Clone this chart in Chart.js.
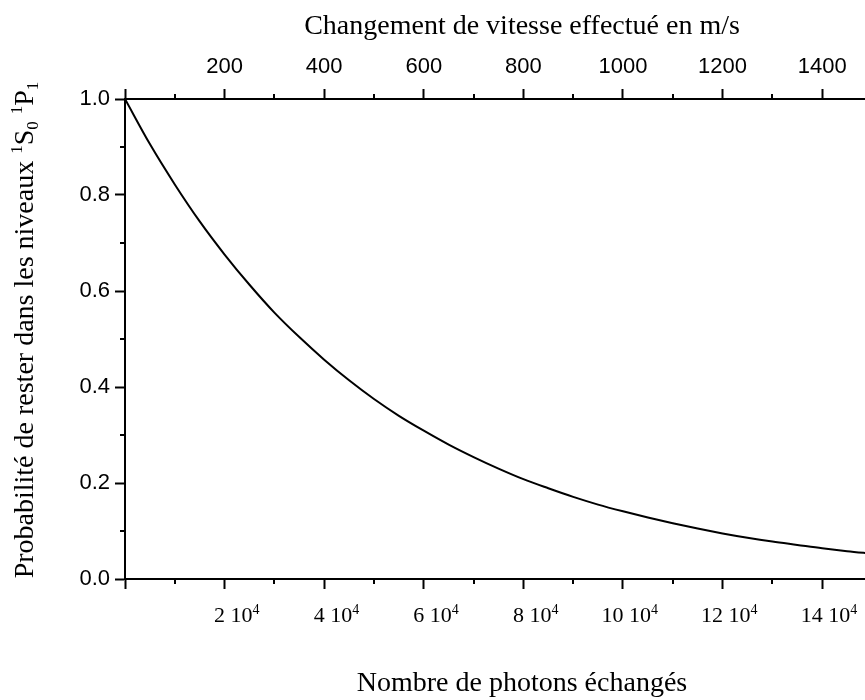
<!DOCTYPE html>
<html>
<head>
<meta charset="utf-8">
<script src="https://cdn.jsdelivr.net/npm/chart.js@4/dist/chart.umd.min.js"></script>
<style>
  html, body { margin: 0; padding: 0; background: #fff; }
  #wrap { width: 865px; height: 700px; position: relative; }
</style>
</head>
<body>
<div id="wrap"><canvas id="c" width="865" height="700"></canvas></div>
<script>
// ---- data ----
const photons = [0, 5000, 10000, 15000, 20000, 25000, 30000, 35000, 40000, 45000,
  50000, 55000, 60000, 65000, 70000, 75000, 80000, 85000, 90000, 95000,
  100000, 105000, 110000, 115000, 120000, 125000, 130000, 135000, 140000, 145000, 150000];
const probability = [1.000, 0.906, 0.822, 0.745, 0.676, 0.613, 0.555, 0.504, 0.457, 0.414,
  0.375, 0.340, 0.309, 0.280, 0.254, 0.230, 0.208, 0.189, 0.171, 0.155,
  0.141, 0.128, 0.116, 0.105, 0.095, 0.086, 0.078, 0.071, 0.064, 0.058, 0.053];
const bottomTicks = [20000, 40000, 60000, 80000, 100000, 120000, 140000];
const bottomTickLabels = ['2 10', '4 10', '6 10', '8 10', '10 10', '12 10', '14 10'];
const bottomTickExp = '4';
const topTicks = [200, 400, 600, 800, 1000, 1200, 1400];
const yTicks = [0.0, 0.2, 0.4, 0.6, 0.8, 1.0];
const xMax = 148600;      // visible end of the photon axis
const topMax = 1486;      // matching end of the velocity axis (m/s)
const titleTop = 'Changement de vitesse effectué en m/s';
const titleBottom = 'Nombre de photons échangés';
const titleLeftMain = 'Probabilité de rester dans les niveaux ';

const SANS = "'Liberation Sans', Arial, sans-serif";
const SERIF = "'Liberation Serif', 'Times New Roman', serif";

const points = photons.map((p, i) => ({ x: p, y: probability[i] }));

const extras = {
  id: 'extras',
  afterDraw(chart) {
    const ctx = chart.ctx;
    const { x, x2, y } = chart.scales;
    const ca = chart.chartArea;
    ctx.save();
    ctx.strokeStyle = '#000';
    ctx.lineWidth = 2;
    // minor ticks
    ctx.beginPath();
    for (let v = 10000; v < xMax; v += 20000) {
      const px = Math.round(x.getPixelForValue(v));
      ctx.moveTo(px, ca.bottom); ctx.lineTo(px, ca.bottom + 5);
    }
    for (let v = 100; v < topMax; v += 200) {
      const px = Math.round(x2.getPixelForValue(v));
      ctx.moveTo(px, ca.top); ctx.lineTo(px, ca.top - 5);
    }
    for (let i = 1; i < 10; i += 2) {
      const py = Math.round(y.getPixelForValue(i / 10));
      ctx.moveTo(ca.left, py); ctx.lineTo(ca.left - 5, py);
    }
    ctx.stroke();

    // bottom tick labels with superscript exponent
    ctx.fillStyle = '#000';
    ctx.textBaseline = 'alphabetic';
    bottomTicks.forEach((v, i) => {
      const px = x.getPixelForValue(v);
      const right = px + 35;
      ctx.font = '14px ' + SERIF;
      const wExp = ctx.measureText(bottomTickExp).width;
      ctx.textAlign = 'right';
      ctx.fillText(bottomTickExp, right, 614);
      ctx.font = '22px ' + SERIF;
      ctx.fillText(bottomTickLabels[i], right - wExp, 622);
    });

    // axis titles
    ctx.textAlign = 'center';
    ctx.font = '28px ' + SERIF;
    ctx.fillText(titleTop, 522, 34);
    ctx.fillText(titleBottom, 522, 691);

    // rotated y title with super/subscripts
    const segs = [
      { t: titleLeftMain, s: 28, dy: 0 },
      { t: '1', s: 17, dy: -11 },
      { t: 'S', s: 28, dy: 0 },
      { t: '0', s: 17, dy: 5 },
      { t: ' ', s: 28, dy: 0 },
      { t: '1', s: 17, dy: -11 },
      { t: 'P', s: 28, dy: 0 },
      { t: '1', s: 17, dy: 5 }
    ];
    let total = 0;
    segs.forEach(sg => { ctx.font = sg.s + 'px ' + SERIF; sg.w = ctx.measureText(sg.t).width; total += sg.w; });
    ctx.translate(33, 330);
    ctx.rotate(-Math.PI / 2);
    ctx.textAlign = 'left';
    let cx = -total / 2;
    segs.forEach(sg => {
      ctx.font = sg.s + 'px ' + SERIF;
      ctx.fillText(sg.t, cx, sg.dy);
      cx += sg.w;
    });
    ctx.restore();
  }
};

new Chart(document.getElementById('c'), {
  type: 'line',
  data: {
    datasets: [{
      data: points,
      borderColor: '#000',
      borderWidth: 2,
      pointRadius: 0,
      fill: false,
      tension: 0.4,
      cubicInterpolationMode: 'monotone',
      xAxisID: 'x',
      yAxisID: 'y'
    }]
  },
  options: {
    responsive: false,
    animation: false,
    events: [],
    layout: { padding: 0 },
    plugins: { legend: { display: false }, tooltip: { enabled: false }, title: { display: false } },
    scales: {
      x: {
        type: 'linear', position: 'bottom', min: 0, max: xMax, bounds: 'data',
        afterFit: s => { s.height = 121; },
        border: { display: true, color: '#000', width: 2 },
        grid: { display: true, drawOnChartArea: false, drawTicks: true, tickLength: 10, tickWidth: 2, tickColor: '#000' },
        afterBuildTicks: s => { s.ticks = [0].concat(bottomTicks).map(v => ({ value: v })); },
        ticks: { autoSkip: false, maxRotation: 0, callback: () => '' }
      },
      x2: {
        type: 'linear', position: 'top', min: 0, max: topMax, bounds: 'data',
        afterFit: s => { s.height = 99; },
        border: { display: true, color: '#000', width: 2 },
        grid: { display: true, drawOnChartArea: false, drawTicks: true, tickLength: 10, tickWidth: 2, tickColor: '#000' },
        afterBuildTicks: s => { s.ticks = [0].concat(topTicks).map(v => ({ value: v })); },
        ticks: { autoSkip: false, maxRotation: 0, padding: 9, color: '#000',
          font: { family: SANS, size: 22 },
          callback: v => (v === 0 ? '' : String(v)) }
      },
      y: {
        type: 'linear', position: 'left', min: 0, max: 1, bounds: 'data',
        afterFit: s => { s.width = 125; },
        border: { display: true, color: '#000', width: 2 },
        grid: { display: true, drawOnChartArea: false, drawTicks: true, tickLength: 10, tickWidth: 2, tickColor: '#000' },
        afterBuildTicks: s => { s.ticks = yTicks.map(v => ({ value: v })); },
        ticks: { autoSkip: false, padding: 5, color: '#000',
          font: { family: SANS, size: 22 },
          callback: v => Number(v).toFixed(1) }
      }
    }
  },
  plugins: [extras]
});
</script>
</body>
</html>
